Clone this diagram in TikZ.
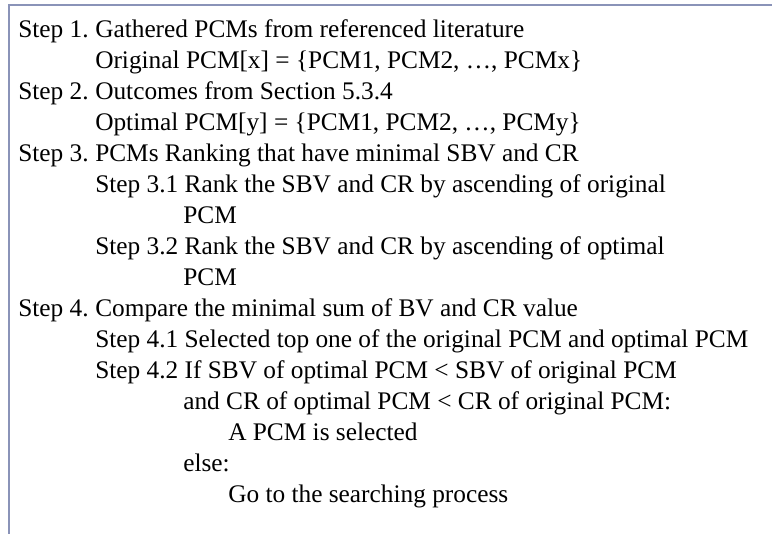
\documentclass[tikz,border=0pt]{standalone}
\usepackage{fontspec}
\setmainfont{Liberation Serif}
\definecolor{framecol}{HTML}{8A93B8}
% step label padded to the first tab stop
\newcommand{\steplabel}[1]{\makebox[57.75pt][l]{#1}}
\begin{document}
\begin{tikzpicture}[x=0.75pt,y=-0.75pt,
  txt/.style={anchor=base west,inner sep=0pt,font=\fontsize{19}{22}\selectfont,text=black},
  frame/.style={draw=framecol,line width=1.1pt}]
\useasboundingbox (0,0) rectangle (772,533);
% outer frame (open to the right and bottom)
\draw[frame] (9,540) -- (9,5) -- (780,5);
% procedure text, one node per line
\def\lh{31}
\node[txt] (l1)  at (18,37)          {\steplabel{Step 1.}Gathered PCMs from referenced literature};
\node[txt] (l2)  at (95,37+\lh)      {Original PCM[x] = \{PCM1, PCM2, \dots, PCMx\}};
\node[txt] (l3)  at (18,37+2*\lh)    {\steplabel{Step 2.}Outcomes from Section 5.3.4};
\node[txt] (l4)  at (95,37+3*\lh)    {Optimal PCM[y] = \{PCM1, PCM2, \dots, PCMy\}};
\node[txt] (l5)  at (18,37+4*\lh)    {\steplabel{Step 3.}PCMs Ranking that have minimal SBV and CR};
\node[txt] (l6)  at (95,37+5*\lh)    {Step 3.1 Rank the SBV and CR by ascending of original};
\node[txt] (l7)  at (183,37+6*\lh)   {PCM};
\node[txt] (l8)  at (95,37+7*\lh)    {Step 3.2 Rank the SBV and CR by ascending of optimal};
\node[txt] (l9)  at (183,37+8*\lh)   {PCM};
\node[txt] (l10) at (18,37+9*\lh)    {\steplabel{Step 4.}Compare the minimal sum of BV and CR value};
\node[txt] (l11) at (95,37+10*\lh)   {Step 4.1 Selected top one of the original PCM and optimal PCM};
\node[txt] (l12) at (95,37+11*\lh)   {Step 4.2 If SBV of optimal PCM < SBV of original PCM};
\node[txt] (l13) at (183,37+12*\lh)  {and CR of optimal PCM < CR of original PCM:};
\node[txt] (l14) at (228,37+13*\lh)  {A PCM is selected};
\node[txt] (l15) at (183,37+14*\lh)  {else:};
\node[txt] (l16) at (228,37+15*\lh)  {Go to the searching process};
\end{tikzpicture}
\end{document}
